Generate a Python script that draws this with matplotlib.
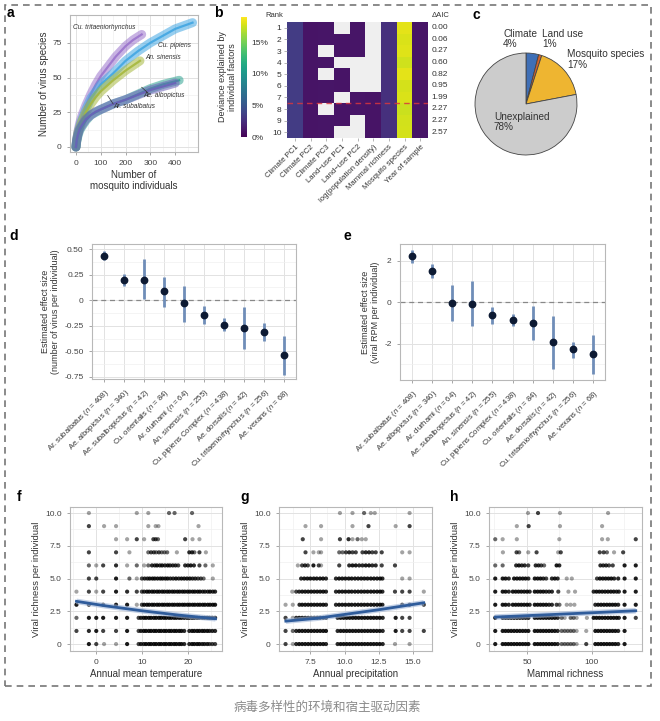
import numpy as np
import matplotlib
matplotlib.use('Agg')
import matplotlib.pyplot as plt
from matplotlib.patches import Rectangle

plt.rcParams['font.family'] = ['Liberation Sans', 'DejaVu Sans']
plt.rcParams['mathtext.fontset'] = 'custom'
plt.rcParams['mathtext.it'] = 'Liberation Sans:italic'
plt.rcParams['mathtext.rm'] = 'Liberation Sans'

# ---------------- data ----------------
# a: rarefaction curves (number of individuals -> number of virus species)
a_species = ['Cu. tritaeniorhynchus', 'Cu. pipiens', 'An. sinensis', 'Ae. albopictus', 'Ar. subalbatus']
a_colors = ['#9b74cc', '#42a6e2', '#a6b83e', '#2fa393', '#6a62b8']
a_x = [
    [0, 3, 8, 15, 25, 40, 60, 80, 100, 130, 160, 200, 230, 265],
    [0, 3, 8, 15, 25, 40, 60, 80, 100, 150, 200, 250, 300, 350, 400, 470],
    [0, 3, 8, 15, 25, 40, 60, 80, 100, 150, 200, 258],
    [0, 3, 8, 15, 25, 40, 60, 80, 100, 150, 200, 250, 300, 350, 416],
    [0, 3, 8, 15, 25, 40, 60, 80, 100, 150, 200, 250, 300, 350, 400],
]
a_y = [
    [0, 5, 11, 17, 23, 30, 38, 45, 51, 58, 65, 72.6, 77, 81],
    [0, 5, 10, 15, 20, 27, 35, 40, 45, 53, 62, 69, 75, 80, 85, 89.5],
    [0, 5, 10, 14, 19, 25, 31, 36, 40, 48, 55, 62],
    [0, 4, 8, 12, 15, 19, 23, 25, 27, 31, 34, 38, 42, 45, 48],
    [0, 5, 9, 13, 16, 20, 23, 25.5, 27, 31, 34, 37.5, 41, 43.5, 46],
]

# b: deviance explained (%) per factor for the 10 best models (nan = not in model)
b_factors = ['Climate PC1', 'Climate PC2', 'Climate PC3', 'Land\u2212use PC1', 'Land\u2212use PC2',
             'log(population density)', 'Mammal richness', 'Mosquito species', 'Year of sample']
nan = np.nan
b_dev = np.array([
    [3.4, 1.0, 1.1, nan, 1.1, nan, 2.6, 18.2, 1.1],
    [3.4, 1.0, 1.1, 1.0, 1.1, nan, 2.6, 17.9, 1.1],
    [3.4, 1.0, nan, 1.0, 1.1, nan, 2.6, 18.1, 1.1],
    [3.4, 1.0, 1.1, nan, nan, nan, 2.6, 17.6, 1.1],
    [3.4, 1.0, nan, 1.0, nan, nan, 2.6, 18.2, 1.1],
    [3.4, 1.0, 1.1, 1.0, nan, nan, 2.6, 17.8, 1.1],
    [3.4, 1.0, 1.1, nan, 1.1, 1.0, 2.6, 17.9, 1.1],
    [3.4, 1.0, nan, 1.0, 1.1, 1.0, 2.6, 17.5, 1.1],
    [3.4, 1.0, 1.1, 1.0, nan, 1.0, 2.6, 17.7, 1.1],
    [3.4, 1.0, 1.1, nan, nan, 1.0, 2.6, 17.8, 1.1],
])
b_rank = [1, 2, 3, 4, 5, 6, 7, 8, 9, 10]
b_daic = ['0.00', '0.06', '0.27', '0.60', '0.82', '0.95', '1.99', '2.27', '2.27', '2.57']

# c: share of deviance
c_labels = ['Climate\n4%', 'Land use\n1%', 'Mosquito species\n17%', 'Unexplained\n78%']
c_values = [4, 1, 17, 78]
c_colors = ['#3f6fb6', '#d4622a', '#eeb531', '#cccccc']

# d: effect size on number of virus per individual
d_names = ['Ar. subalbatus ($n$ = 408)', 'Ae. albopictus ($n$ = 340)', 'Ae. subalbopictus ($n$ = 42)',
           'Cu. orientalis ($n$ = 84)', 'Ar. durhami ($n$ = 64)', 'An. sinensis ($n$ = 255)',
           'Cu. pipiens Complex ($n$ = 438)', 'Ae. dorsalis ($n$ = 42)',
           'Cu. tritaeniorhynchus ($n$ = 256)', 'Ae. vexans ($n$ = 68)']
d_est = [0.43, 0.20, 0.20, 0.09, -0.03, -0.14, -0.24, -0.27, -0.31, -0.54]
d_lo = [0.39, 0.14, 0.01, -0.07, -0.21, -0.23, -0.30, -0.48, -0.40, -0.73]
d_hi = [0.48, 0.26, 0.40, 0.23, 0.14, -0.06, -0.17, -0.07, -0.22, -0.35]

# e: effect size on viral RPM per individual
e_names = ['Ar. subalbatus ($n$ = 408)', 'Ae. albopictus ($n$ = 340)', 'Ar. durhami ($n$ = 64)',
           'Ae. subalbopictus ($n$ = 42)', 'An. sinensis ($n$ = 255)', 'Cu. pipiens Complex ($n$ = 438)',
           'Cu. orientalis ($n$ = 84)', 'Ae. dorsalis ($n$ = 42)',
           'Cu. tritaeniorhynchus ($n$ = 256)', 'Ae. vexans ($n$ = 68)']
e_est = [2.2, 1.51, -0.02, -0.08, -0.63, -0.85, -1.01, -1.93, -2.28, -2.51]
e_lo = [1.88, 1.16, -0.90, -1.17, -1.05, -1.17, -1.82, -3.22, -2.70, -3.46]
e_hi = [2.52, 1.85, 0.84, 1.00, -0.24, -0.56, -0.21, -0.66, -1.90, -1.58]

# f/g/h: viral richness per individual, (x, number of overlapping individuals) per richness value
f_points = {
    10: [(-1.5, 1), (8.9, 1), (11.4, 1), (15.9, 2), (17.1, 2), (20.9, 2)],
    9: [(-1.5, 3), (1.8, 1), (4.4, 1), (11.4, 1), (13.0, 1), (13.6, 1), (22.3, 1)],
    8: [(4.4, 1), (6.8, 1), (8.9, 3), (10.5, 1), (12.5, 3), (13.0, 3), (13.5, 2), (19.4, 3), (21.0, 1), (22.5, 1)],
    7: [(-1.5, 3), (4.4, 3), (7.3, 1), (11.4, 2), (12.0, 3), (12.6, 3), (13.1, 2), (13.7, 3), (14.3, 2),
        (14.9, 2), (15.5, 2), (17.6, 1), (20.3, 4), (20.9, 4), (21.4, 2), (22.5, 3), (23.9, 1)],
    6: [(-1.5, 2), (0.1, 1), (1.6, 3), (4.4, 4), (6.8, 1), (8.9, 2), (10.5, 1), (11.4, 2), (12.2, 4), (12.8, 4),
        (13.3, 5), (13.9, 4), (14.4, 5), (15.0, 4), (15.6, 5), (16.1, 4), (16.7, 4), (17.3, 4), (17.9, 3),
        (19.4, 4), (20.0, 4), (20.6, 5), (21.3, 4), (22.5, 3), (23.8, 2), (25.4, 1)],
    5: [(-1.5, 3), (0.1, 3), (4.4, 5), (7.3, 2), (8.9, 1), (10.0, 3), (10.6, 4), (11.2, 4), (11.7, 5), (12.3, 5),
        (12.8, 5), (13.4, 5), (14.0, 5), (14.5, 5), (15.1, 5), (15.6, 5), (16.2, 4), (16.8, 4), (17.4, 5),
        (18.0, 4), (18.6, 5), (19.2, 5), (19.8, 5), (20.4, 5), (21.0, 4), (21.6, 4), (22.2, 3), (22.8, 3),
        (23.4, 2), (25.4, 1)],
    4: [(-4.2, 1), (-1.5, 3), (0.1, 1), (1.6, 3), (4.4, 5), (6.8, 4), (8.9, 3), (10.0, 3), (10.5, 4), (11.1, 5),
        (11.6, 5), (12.2, 5), (12.7, 5), (13.3, 5), (13.8, 5), (14.4, 5), (14.9, 5), (15.5, 5), (16.0, 5),
        (16.6, 5), (17.1, 5), (17.7, 5), (18.2, 5), (18.8, 5), (19.3, 5), (19.9, 5), (20.4, 5), (21.0, 5),
        (21.5, 5), (22.1, 5), (22.6, 5), (23.2, 4), (23.7, 4), (24.3, 4), (24.8, 5), (25.4, 4), (25.9, 4)],
    3: [(-4.2, 5), (-1.5, 3), (1.6, 3), (4.4, 5), (6.8, 5), (8.9, 1), (10.0, 3), (10.5, 5), (11.1, 5),
        (11.6, 5), (12.2, 5), (12.7, 5), (13.3, 5), (13.8, 5), (14.4, 5), (14.9, 5), (15.5, 5), (16.0, 5),
        (16.6, 5), (17.1, 5), (17.7, 5), (18.2, 5), (18.8, 5), (19.3, 5), (19.9, 5), (20.4, 5), (21.0, 5),
        (21.5, 5), (22.1, 5), (22.6, 5), (23.2, 5), (23.7, 5), (24.3, 5), (24.8, 5), (25.4, 5), (25.9, 5)],
    2: [(-4.2, 2), (-1.5, 5), (0.1, 5), (1.6, 5), (4.4, 5), (6.8, 5), (9.3, 3), (9.8, 4), (10.4, 5), (10.9, 5),
        (11.5, 5), (12.0, 5), (12.6, 5), (13.1, 5), (13.7, 5), (14.2, 5), (14.8, 5), (15.3, 5), (15.9, 5),
        (16.4, 5), (17.0, 5), (17.5, 5), (18.1, 5), (18.6, 5), (19.2, 5), (19.8, 5), (20.3, 5), (20.9, 5),
        (21.4, 5), (22.0, 5), (22.5, 5), (23.1, 5), (23.6, 5), (24.2, 5), (24.7, 5), (25.3, 5), (25.9, 5)],
    1: [(-4.2, 3), (-1.5, 4), (0.1, 5), (1.6, 3), (4.4, 3), (6.8, 5), (9.3, 3), (9.8, 4), (10.4, 5), (10.9, 5),
        (11.5, 5), (12.0, 5), (12.6, 5), (13.1, 5), (13.7, 5), (14.2, 5), (14.8, 5), (15.3, 5), (15.9, 5),
        (16.4, 5), (17.0, 5), (17.5, 5), (18.1, 5), (18.6, 5), (19.2, 4), (20.3, 4), (20.9, 5), (21.4, 5),
        (22.0, 5), (22.5, 5), (23.1, 5), (23.6, 5), (24.2, 5), (24.7, 4), (25.3, 4), (25.9, 4)],
    0: [(-1.5, 5), (0.1, 3), (1.8, 1), (4.4, 1), (6.8, 5), (9.3, 3), (9.8, 4), (10.4, 4), (10.9, 5), (11.5, 5),
        (12.0, 5), (12.6, 5), (13.1, 5), (13.7, 5), (14.2, 5), (14.8, 5), (15.3, 5), (15.9, 5), (16.4, 5),
        (17.0, 5), (17.5, 5), (18.1, 5), (18.6, 5), (19.2, 4), (20.3, 4), (20.9, 5), (21.4, 5), (22.0, 5),
        (22.5, 5), (23.1, 4), (23.6, 4), (24.2, 4), (24.7, 3), (25.3, 3), (25.9, 3)],
}
g_points = {
    10: [(9.66, 1), (10.58, 1), (11.43, 2), (11.92, 1), (12.21, 1), (14.76, 1)],
    9: [(7.14, 1), (8.28, 1), (10.58, 1), (11.75, 3), (13.74, 1), (14.76, 3)],
    8: [(6.94, 3), (8.28, 1), (9.66, 3), (10.29, 4), (10.58, 1), (10.95, 2), (11.26, 1), (11.55, 1)],
    7: [(7.14, 3), (7.72, 1), (8.11, 1), (8.28, 1), (9.61, 2), (9.85, 2), (10.10, 3), (10.34, 4), (10.58, 3),
        (10.82, 3), (11.31, 3), (11.55, 4), (11.79, 4), (12.03, 3), (12.28, 3), (12.72, 3), (14.22, 1), (14.76, 1)],
    6: [(6.58, 1), (6.89, 3), (7.10, 4), (7.31, 3), (7.72, 5), (8.11, 3), (8.28, 1), (9.61, 3), (10.34, 4),
        (10.58, 5), (10.82, 5), (11.07, 4), (11.31, 4), (11.55, 5), (11.79, 5), (12.03, 4), (12.28, 4),
        (12.72, 3), (13.69, 3)],
    5: [(6.82, 4), (7.05, 5), (7.28, 5), (7.50, 5), (7.74, 5), (7.96, 5), (8.20, 5), (8.42, 5), (8.64, 4),
        (9.37, 4), (9.60, 5), (9.83, 5), (10.06, 5), (10.30, 5), (10.52, 5), (10.76, 5), (10.99, 5), (11.22, 5),
        (11.45, 5), (11.68, 5), (11.92, 5), (12.15, 5), (12.38, 5), (12.60, 5), (12.77, 4), (14.22, 1), (14.76, 1)],
    4: [(6.17, 1), (6.46, 3), (6.68, 4), (6.90, 5), (7.12, 5), (7.34, 5), (7.56, 5), (7.78, 5), (8.00, 5),
        (8.22, 5), (8.44, 5), (8.64, 4), (9.37, 4), (9.60, 5), (9.83, 5), (10.06, 5), (10.30, 5), (10.52, 5),
        (10.76, 5), (10.99, 5), (11.22, 5), (11.45, 5), (11.68, 5), (11.92, 5), (12.15, 5), (12.38, 5),
        (12.60, 5), (12.77, 4), (13.69, 3), (14.22, 3), (14.76, 3), (15.80, 1)],
    3: [(5.68, 1), (6.21, 1), (6.70, 4), (6.90, 5), (7.12, 5), (7.34, 5), (7.56, 5), (7.78, 5), (8.00, 5),
        (8.22, 5), (8.44, 5), (8.64, 4), (9.37, 4), (9.60, 5), (9.83, 5), (10.06, 5), (10.30, 5), (10.52, 5),
        (10.76, 5), (10.99, 5), (11.22, 5), (11.45, 5), (11.68, 5), (11.92, 5), (12.15, 5), (12.38, 5),
        (12.60, 5), (12.77, 4), (14.22, 3), (14.76, 3), (15.80, 3)],
    2: [(5.68, 3), (6.21, 1), (6.46, 4), (6.68, 5), (6.90, 5), (7.12, 5), (7.34, 5), (7.56, 5), (7.78, 5),
        (8.00, 5), (8.22, 5), (8.44, 5), (8.64, 4), (9.49, 4), (9.71, 5), (9.93, 5), (10.15, 5), (10.37, 5),
        (10.59, 5), (10.81, 5), (11.03, 5), (11.25, 5), (11.47, 5), (11.69, 5), (11.91, 5), (12.13, 5),
        (12.35, 5), (12.57, 5), (12.79, 4), (13.74, 5), (14.22, 3), (14.76, 3)],
    1: [(5.68, 3), (6.21, 2), (6.46, 4), (6.68, 5), (6.90, 5), (7.12, 5), (7.34, 5), (7.56, 5), (7.78, 5),
        (8.00, 5), (8.22, 5), (8.44, 5), (8.64, 5), (9.49, 4), (9.71, 5), (9.93, 5), (10.15, 5), (10.37, 5),
        (10.59, 5), (10.81, 5), (11.03, 5), (11.25, 5), (11.47, 5), (11.69, 5), (11.91, 5), (12.13, 5),
        (12.35, 5), (12.57, 5), (12.79, 4), (13.74, 5), (14.22, 3), (14.76, 3), (15.80, 3)],
    0: [(5.68, 3), (6.21, 1), (6.46, 4), (6.68, 5), (6.90, 5), (7.12, 5), (7.34, 5), (7.56, 5), (7.78, 5),
        (8.00, 5), (8.22, 5), (8.44, 5), (8.64, 4), (9.49, 4), (9.71, 5), (9.93, 5), (10.15, 5), (10.37, 5),
        (10.59, 5), (10.81, 5), (11.03, 5), (11.25, 5), (11.47, 5), (11.69, 5), (11.91, 5), (12.13, 5),
        (12.35, 5), (12.57, 5), (12.79, 4), (13.69, 1), (14.76, 1)],
}
h_points = {
    10: [(50.8, 1), (58.5, 3), (75.4, 1), (112.4, 1)],
    9: [(42.2, 1), (51.3, 3), (75.4, 1), (107.8, 1)],
    8: [(25.6, 2), (31.3, 1), (42.2, 1), (74.9, 1), (107.8, 1), (112.2, 1), (133.7, 3)],
    7: [(31.5, 1), (42.0, 3), (44.0, 2), (51.0, 1), (57.4, 3), (74.0, 1), (76.0, 3), (106.0, 3), (109.0, 3),
        (111.5, 2), (117.0, 1), (124.0, 3)],
    6: [(25.6, 2), (31.3, 2), (41.7, 4), (43.8, 5), (46.0, 4), (48.2, 4), (51.0, 3), (56.7, 4), (58.9, 4),
        (61.0, 3), (63.2, 2), (72.8, 5), (74.9, 4), (106.5, 4), (108.7, 4), (110.9, 4), (113.1, 3), (116.0, 3),
        (125.1, 5), (133.7, 5)],
    5: [(25.6, 5), (31.3, 5), (33.5, 5), (36.0, 4), (40.1, 5), (42.3, 5), (44.5, 5), (46.7, 5), (48.9, 5),
        (51.1, 4), (56.0, 5), (58.2, 5), (60.4, 5), (62.6, 4), (64.8, 3), (69.2, 4), (71.4, 5), (73.6, 4),
        (80.6, 1), (84.5, 1), (103.9, 3), (106.1, 5), (108.3, 5), (110.5, 5), (112.7, 5), (114.9, 5),
        (117.1, 4), (120.2, 4), (125.1, 5), (133.7, 5)],
    4: [(25.6, 5), (31.3, 5), (33.5, 5), (36.0, 4), (39.1, 5), (41.3, 5), (43.5, 5), (45.7, 5), (47.9, 5),
        (50.1, 5), (52.1, 4), (56.0, 5), (58.2, 5), (60.4, 5), (62.6, 5), (64.8, 4), (67.0, 4), (69.2, 4),
        (74.1, 3), (81.9, 1), (87.0, 1), (101.3, 4), (103.5, 5), (105.7, 5), (107.9, 5), (110.1, 5), (112.3, 5),
        (114.5, 5), (116.7, 5), (118.9, 4), (120.7, 4), (125.1, 5), (133.7, 5)],
    3: [(25.6, 5), (31.3, 5), (33.5, 5), (36.0, 4), (39.1, 5), (41.3, 5), (43.5, 5), (45.7, 5), (47.9, 5),
        (50.1, 5), (52.1, 4), (56.0, 5), (58.2, 5), (60.4, 5), (62.6, 5), (64.8, 5), (67.0, 4), (69.2, 4),
        (72.8, 3), (75.0, 2), (80.6, 1), (83.5, 1), (86.5, 1), (102.6, 4), (104.8, 5), (107.0, 5), (109.2, 5),
        (111.4, 5), (113.6, 5), (115.8, 5), (118.0, 5), (120.2, 4), (125.1, 5), (133.7, 5)],
    2: [(25.6, 5), (31.3, 5), (33.5, 5), (35.7, 5), (37.9, 5), (40.1, 5), (42.3, 5), (44.5, 5), (46.7, 5),
        (48.9, 5), (51.1, 5), (56.0, 5), (58.2, 5), (60.4, 5), (62.6, 5), (64.8, 5), (67.0, 5), (69.2, 5),
        (71.4, 5), (73.6, 4), (76.7, 2), (79.0, 1), (83.6, 2), (85.9, 2), (88.2, 1), (96.1, 1), (101.3, 5),
        (103.5, 5), (105.7, 5), (107.9, 5), (110.1, 5), (112.3, 5), (114.5, 5), (116.7, 5), (118.9, 5),
        (120.7, 4), (125.1, 5), (133.7, 3)],
    1: [(25.6, 5), (31.3, 5), (33.5, 5), (35.7, 5), (37.9, 5), (40.1, 5), (42.3, 5), (44.5, 5), (46.7, 5),
        (48.9, 5), (51.1, 5), (56.0, 5), (58.2, 5), (60.4, 5), (62.6, 5), (64.8, 5), (67.0, 5), (69.2, 5),
        (71.4, 5), (73.6, 4), (76.7, 2), (79.0, 2), (81.3, 2), (83.6, 2), (85.9, 2), (88.2, 1), (95.6, 1),
        (102.6, 5), (104.8, 5), (107.0, 5), (109.2, 5), (111.4, 5), (113.6, 5), (115.8, 5), (118.0, 5),
        (120.2, 4), (125.1, 5)],
    0: [(25.6, 5), (31.3, 5), (33.5, 5), (35.7, 5), (37.9, 5), (40.1, 5), (42.3, 5), (44.5, 5), (46.7, 5),
        (48.9, 5), (51.1, 5), (56.0, 5), (58.2, 5), (60.4, 5), (62.6, 5), (64.8, 5), (67.0, 5), (69.2, 5),
        (71.4, 5), (73.6, 4), (76.7, 2), (79.0, 2), (81.3, 2), (83.6, 2), (85.9, 2), (88.2, 1), (95.6, 3),
        (102.6, 5), (104.8, 5), (107.0, 5), (109.2, 5), (111.4, 5), (113.6, 5), (115.8, 5), (118.0, 5),
        (120.2, 4), (125.1, 5)],
}
# fitted trend lines
f_fit_x = [-4.2, 2, 10, 18, 26]
f_fit_y = [3.26, 2.92, 2.54, 2.21, 1.93]
g_fit_x = [5.7, 8, 10, 12.5, 15.8]
g_fit_y = [1.75, 1.97, 2.26, 2.62, 3.15]
h_fit_x = [25.6, 80, 133.7]
h_fit_y = [2.06, 2.30, 2.54]


def px(x0, y0, x1, y1):
    # pixel box -> figure fraction rect
    return [x0 / 660, 1 - y1 / 721, (x1 - x0) / 660, (y1 - y0) / 721]


def light_axes(ax):
    ax.set_facecolor('white')
    ax.grid(True, which='major', color='#e2e2e2', lw=0.7)
    ax.grid(True, which='minor', color='#f0f0f0', lw=0.5)
    ax.set_axisbelow(True)
    for s in ax.spines.values():
        s.set_color('#b8b8b8')
        s.set_linewidth(0.8)
    ax.tick_params(colors='#444444', labelsize=6, length=2.5, width=0.6)
    ax.tick_params(axis='both', which='both', color='#999999')
    ax.tick_params(which='minor', length=0)


fig = plt.figure(figsize=(6.6, 7.21), dpi=100)

# ---------------- a ----------------
ax = fig.add_axes(px(70, 15, 198, 152))
light_axes(ax)
for xs, ys, col in zip(a_x, a_y, a_colors):
    ax.plot(xs, ys, color=col, lw=6.5, alpha=0.55, solid_capstyle='round')
    ax.plot(xs, ys, color=col, lw=1.6, alpha=0.9)
ax.set_xlim(-24, 492)
ax.set_ylim(-3.6, 95)
ax.set_xticks([0, 100, 200, 300, 400])
ax.set_xticks([50, 150, 250, 350, 450], minor=True)
ax.set_yticks([0, 25, 50, 75])
ax.set_yticks([12.5, 37.5, 62.5, 87.5], minor=True)
ax.set_xlabel('Number of\nmosquito individuals', fontsize=7, color='#333333', labelpad=2, linespacing=1.1)
ax.set_ylabel('Number of virus species', fontsize=7, color='#333333', labelpad=2)
lab = dict(fontsize=4.8, style='italic', color='#333333')
ax.text(-10, 85, a_species[0], **lab)
ax.text(332, 72, a_species[1], **lab)
ax.text(280, 63, a_species[2], **lab)
ax.text(272, 36, a_species[3], **lab)
ax.text(152, 28, a_species[4], **lab)
ax.plot([290, 265], [39, 43], color='#333333', lw=0.5)
ax.plot([150, 128], [31, 37], color='#333333', lw=0.5)

# ---------------- b ----------------
ax = fig.add_axes(px(287, 22, 428, 138))
cmap = plt.get_cmap('viridis').copy()
cmap.set_bad('#efefef')
im = ax.imshow(np.ma.masked_invalid(b_dev), cmap=cmap, vmin=0, vmax=19, aspect='auto')
ax.axhline(6.5, color='#d9363e', lw=1.0, ls=(0, (4, 3)), alpha=0.85)
ax.set_xticks(range(len(b_factors)))
ax.set_xticklabels(b_factors, rotation=45, ha='right', rotation_mode='anchor', fontsize=5.6, color='#333333')
ax.set_yticks(range(len(b_rank)))
ax.set_yticklabels(b_rank, fontsize=6, color='#333333')
ax.tick_params(length=2, width=0.5, color='#999999', pad=2)
for s in ax.spines.values():
    s.set_visible(False)
ax.text(-0.03, 1.06, 'Rank', transform=ax.transAxes, ha='right', va='center', fontsize=5.5, color='#333333')
ax.text(1.025, 1.06, '\u0394AIC', transform=ax.transAxes, ha='left', va='center', fontsize=5.5, color='#333333')
for i, v in enumerate(b_daic):
    ax.text(1.025, i, v, transform=ax.get_yaxis_transform(), ha='left', va='center', fontsize=6, color='#333333')

cax = fig.add_axes(px(241, 17, 247, 137))
cb = fig.colorbar(im, cax=cax)
cb.outline.set_visible(False)
cb.set_ticks([0, 5, 10, 15])
cb.set_ticklabels(['0%', '5%', '10%', '15%'])
cax.tick_params(labelsize=6, length=0, colors='#333333', pad=3)
cax.yaxis.set_label_position('left')
cax.set_ylabel('Deviance explained by\nindividual factors', fontsize=6.5, color='#333333', labelpad=3,
               linespacing=1.1)

# ---------------- c ----------------
ax = fig.add_axes(px(474, 52, 578, 156))
ax.pie(c_values, colors=c_colors, startangle=90, counterclock=False,
       wedgeprops=dict(edgecolor='#444444', linewidth=0.6))
ax.set_xlim(-1.02, 1.02)
ax.set_ylim(-1.02, 1.02)
ax.set_aspect('equal')
ptxt = dict(fontsize=7.2, color='#333333', va='center', ha='left', linespacing=1.05)
ax.text(-0.45, 1.27, c_labels[0], **ptxt)
ax.text(0.31, 1.27, c_labels[1], **ptxt)
ax.text(0.81, 0.87, c_labels[2], **ptxt)
ax.text(-0.63, -0.35, c_labels[3], **ptxt)


# ---------------- d / e ----------------
def effect_panel(rect, names, est, lo, hi, ylim, yticks, ylabels, yminor, ylabel):
    ax = fig.add_axes(rect)
    light_axes(ax)
    xs = np.arange(len(names))
    ax.axhline(0, color='#888888', lw=0.9, ls=(0, (4, 3)))
    ax.vlines(xs, lo, hi, color='#6f8db8', lw=2.0)
    ax.plot(xs, est, 'o', color='#0d1a33', ms=4.6)
    ax.set_xlim(-0.6, len(names) - 0.4)
    ax.set_ylim(*ylim)
    ax.set_xticks(xs)
    ax.set_xticklabels(names, rotation=45, ha='right', rotation_mode='anchor', fontsize=5.5, color='#333333')
    ax.set_yticks(yticks)
    ax.set_yticklabels(ylabels)
    ax.set_yticks(yminor, minor=True)
    ax.set_ylabel(ylabel, fontsize=6.5, color='#333333', labelpad=3, linespacing=1.1)
    return ax


effect_panel(px(92, 244, 296, 379), d_names, d_est, d_lo, d_hi, (-0.77, 0.55),
             [0.5, 0.25, 0, -0.25, -0.5, -0.75], ['0.50', '0.25', '0', '-0.25', '-0.50', '-0.75'],
             [0.375, 0.125, -0.125, -0.375, -0.625],
             'Estimated effect size\n(number of virus per individual)')
effect_panel(px(400, 244, 605, 380), e_names, e_est, e_lo, e_hi, (-3.75, 2.8),
             [2, 0, -2], ['2', '0', '-2'], [-3, -1, 1],
             'Estimated effect size\n(viral RPM per individual)')


# ---------------- f / g / h ----------------
def scatter_panel(rect, pts, fit_x, fit_y, xlim, xticks, xlabels, xminor, xlabel):
    ax = fig.add_axes(rect)
    light_axes(ax)
    xs, ys, al = [], [], []
    for yv, row in pts.items():
        for xv, n in row:
            xs.append(xv)
            ys.append(yv)
            al.append(1 - 0.64 ** n)
    cols = np.zeros((len(xs), 4))
    cols[:, 3] = al
    ax.scatter(xs, ys, s=9, c=cols, linewidths=0)
    ax.plot(fit_x, fit_y, color='#9fb5d8', lw=4, alpha=0.6, solid_capstyle='butt')
    ax.plot(fit_x, fit_y, color='#2f5c9b', lw=2.0)
    ax.set_xlim(*xlim)
    ax.set_ylim(-0.53, 10.46)
    ax.set_xticks(xticks)
    ax.set_xticklabels(xlabels)
    ax.set_xticks(xminor, minor=True)
    ax.set_yticks([0, 2.5, 5, 7.5, 10])
    ax.set_yticklabels(['0', '2.5', '5.0', '7.5', '10.0'])
    ax.set_yticks([1.25, 3.75, 6.25, 8.75], minor=True)
    ax.set_xlabel(xlabel, fontsize=7, color='#333333', labelpad=2)
    ax.set_ylabel('Viral richness per individual', fontsize=6.8, color='#333333', labelpad=3)
    return ax


scatter_panel(px(70, 507, 222, 651), f_points, f_fit_x, f_fit_y, (-5.6, 27.4),
              [0, 10, 20], ['0', '10', '20'], [-5, 5, 15, 25], 'Annual mean temperature')
scatter_panel(px(279, 507, 432, 651), g_points, g_fit_x, g_fit_y, (5.2, 16.4),
              [7.5, 10, 12.5, 15], ['7.5', '10.0', '12.5', '15.0'], [6.25, 8.75, 11.25, 13.75],
              'Annual precipitation')
scatter_panel(px(489, 507, 642, 651), h_points, h_fit_x, h_fit_y, (20.8, 138.5),
              [50, 100], ['50', '100'], [25, 75, 125], 'Mammal richness')

# ---------------- panel letters, frame, caption ----------------
for letter, lx, ly in [('a', 7, 13), ('b', 214, 13), ('c', 472, 15), ('d', 9, 236),
                       ('e', 344, 236), ('f', 17, 497), ('g', 240, 497), ('h', 450, 497)]:
    fig.text(lx / 660, 1 - ly / 721, letter, fontsize=10, weight='bold', va='center', ha='left')

fig.patches.append(Rectangle((5 / 660, 1 - 686 / 721), 646 / 660, 681 / 721, transform=fig.transFigure,
                             fill=False, ls=(0, (4, 3)), ec='#777777', lw=1.2))
fig.text(327 / 660, 1 - 707 / 721, '病毒多样性的环境和宿主驱动因素', fontsize=9, color='#8a8a8a',
         ha='center', va='center', family=['Noto Sans CJK SC', 'DejaVu Sans'])

fig.savefig('out.png', dpi=100)
